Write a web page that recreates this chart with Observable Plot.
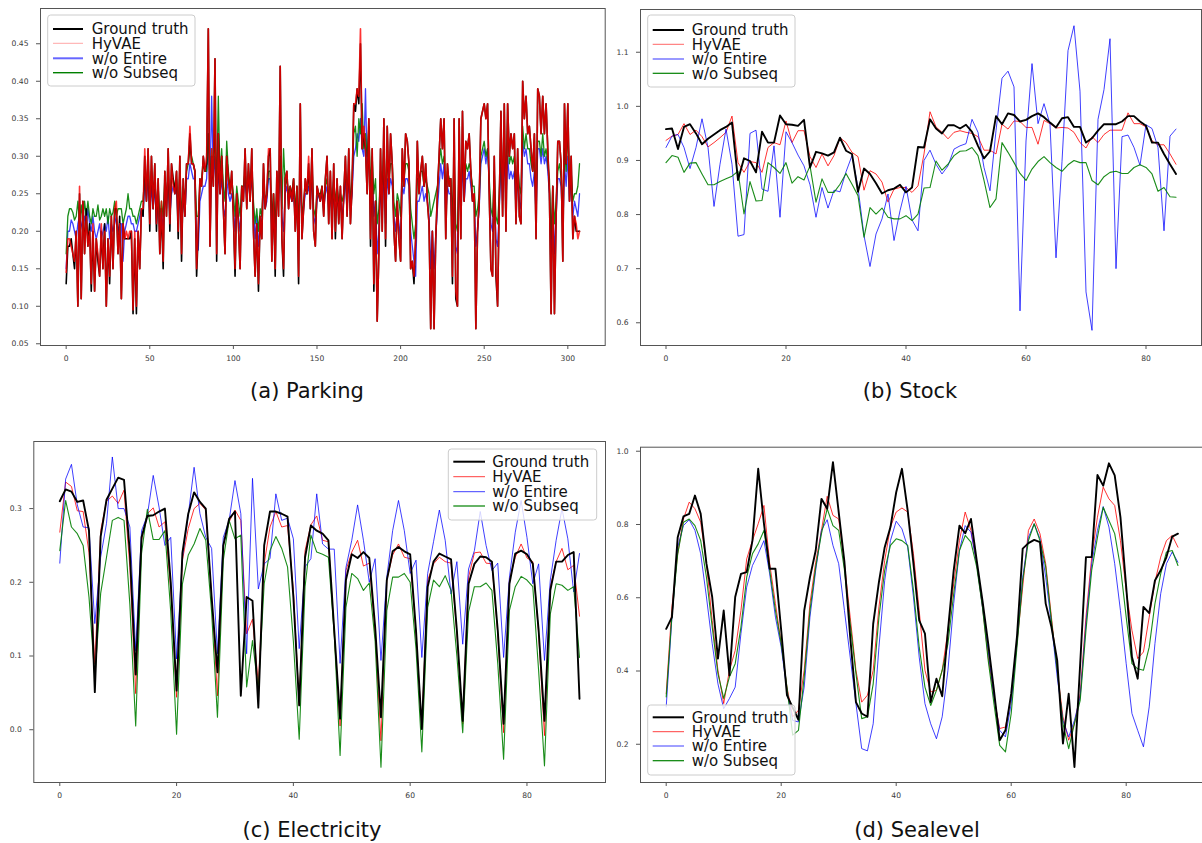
<!DOCTYPE html>
<html><head><meta charset="utf-8">
<script src="https://cdn.jsdelivr.net/npm/d3@7"></script>
<script src="https://cdn.jsdelivr.net/npm/@observablehq/plot@0.6"></script>
<style>
html,body{margin:0;padding:0;background:#fff;}
#root{position:relative;width:1202px;height:843px;overflow:hidden;background:#fff;}
.panel{position:absolute;}
#overlay{position:absolute;left:0;top:0;pointer-events:none;}
</style></head>
<body><div id="root"></div>
<script>
const seriesNames = ["Ground truth","HyVAE","w/o Entire","w/o Subseq"];
const captions = ["(a) Parking","(b) Stock","(c) Electricity","(d) Sealevel"];

const parkingGT = [
.13,.18,.18,.19,.17,.15,.20,.10,.25,.11,
.24,.17,.23,.18,.21,.12,.20,.12,.19,.16,
.14,.20,.15,.21,.10,.19,.13,.22,.15,.23,
.23,.17,.22,.11,.21,.19,.19,.19,.19,.20,
.09,.19,.09,.20,.15,.23,.22,.30,.24,.31,
.20,.30,.23,.29,.20,.27,.17,.23,.15,.28,
.22,.31,.20,.29,.27,.25,.28,.19,.30,.16,
.27,.22,.29,.29,.33,.29,.29,.28,.14,.20,
.27,.26,.30,.28,.29,.47,.18,.30,.26,.43,
.16,.33,.25,.30,.23,.17,.30,.27,.25,.28,
.22,.14,.25,.21,.15,.26,.24,.31,.23,.29,
.24,.31,.20,.14,.21,.12,.22,.19,.29,.23,
.25,.30,.31,.16,.25,.14,.28,.22,.42,.19,
.14,.27,.28,.23,.26,.24,.27,.20,.26,.13,
.37,.19,.23,.27,.25,.29,.23,.31,.20,.18,
.26,.25,.24,.26,.22,.27,.30,.21,.28,.19,
.29,.19,.27,.21,.26,.19,.25,.30,.22,.31,
.21,.26,.37,.36,.39,.37,.45,.31,.33,.31,
.25,.35,.18,.31,.12,.24,.08,.17,.31,.20,
.35,.18,.34,.25,.33,.29,.20,.16,.24,.19,
.16,.31,.26,.33,.32,.29,.15,.16,.13,.19,
.32,.25,.28,.30,.26,.29,.24,.21,.07,.20,
.07,.19,.25,.30,.35,.31,.35,.19,.29,.26,
.27,.13,.35,.11,.10,.35,.19,.36,.24,.32,
.31,.33,.28,.24,.25,.07,.20,.24,.35,.36,
.37,.35,.37,.25,.15,.14,.30,.14,.10,.24,
.36,.22,.37,.20,.37,.30,.33,.31,.33,.21,
.31,.22,.21,.40,.35,.38,.33,.34,.31,.28,
.33,.19,.39,.38,.33,.38,.33,.37,.31,.25,
.09,.26,.09,.22,.32,.32,.29,.16,.37,.29,
.37,.24,.30,.19,.22,.20,.20,.20];
const parkingHyVAE = [
.145,.19,.19,.18,.17,.16,.20,.10,.26,.11,
.24,.17,.22,.18,.20,.13,.21,.12,.19,.17,
.14,.21,.15,.20,.10,.19,.14,.22,.15,.23,
.24,.17,.21,.11,.21,.19,.20,.19,.20,.20,
.095,.20,.10,.20,.15,.23,.23,.31,.24,.31,
.21,.30,.23,.29,.21,.27,.17,.24,.16,.28,
.22,.31,.21,.29,.26,.25,.28,.20,.30,.17,
.27,.22,.29,.29,.34,.29,.29,.28,.15,.21,
.27,.26,.30,.28,.30,.47,.18,.31,.26,.43,
.17,.33,.25,.30,.23,.17,.30,.27,.25,.28,
.22,.15,.25,.21,.15,.26,.24,.31,.23,.29,
.24,.31,.20,.14,.21,.13,.22,.19,.29,.23,
.25,.31,.31,.16,.25,.15,.28,.22,.42,.19,
.15,.27,.28,.23,.26,.24,.27,.20,.26,.14,
.37,.19,.23,.27,.25,.30,.23,.31,.20,.18,
.26,.25,.24,.26,.22,.27,.30,.21,.28,.19,
.29,.20,.27,.21,.26,.19,.25,.30,.22,.31,
.21,.26,.37,.37,.39,.38,.47,.31,.34,.31,
.25,.35,.19,.31,.13,.24,.08,.17,.31,.20,
.35,.19,.34,.25,.33,.29,.20,.16,.24,.19,
.16,.31,.26,.33,.32,.29,.15,.16,.14,.19,
.32,.25,.28,.30,.26,.29,.24,.21,.07,.20,
.07,.19,.25,.30,.35,.31,.35,.19,.29,.26,
.27,.14,.35,.12,.10,.35,.19,.36,.24,.32,
.31,.33,.28,.24,.25,.07,.20,.24,.35,.36,
.37,.35,.37,.25,.15,.14,.30,.15,.10,.24,
.36,.22,.37,.20,.37,.30,.33,.31,.33,.21,
.31,.22,.21,.40,.35,.38,.33,.34,.31,.28,
.33,.19,.39,.38,.33,.38,.33,.37,.31,.25,
.09,.26,.09,.22,.32,.32,.29,.16,.37,.29,
.37,.24,.30,.19,.22,.21,.19,.20];
const parkingEntire = [
.15,.20,.20,.215,.21,.20,.19,.21,.22,.21,
.20,.22,.21,.23,.21,.20,.22,.20,.19,.20,
.21,.19,.20,.21,.20,.22,.19,.21,.20,.21,
.22,.20,.21,.21,.16,.20,.21,.22,.22,.21,
.21,.20,.20,.21,.22,.23,.22,.27,.24,.27,
.22,.26,.23,.26,.21,.25,.20,.23,.20,.26,
.23,.27,.22,.25,.26,.25,.26,.21,.26,.20,
.25,.22,.27,.27,.29,.28,.27,.27,.19,.175,
.24,.25,.26,.26,.27,.33,.26,.38,.27,.30,
.23,.28,.25,.27,.23,.22,.27,.25,.24,.25,
.23,.20,.24,.22,.20,.24,.25,.27,.24,.27,
.25,.27,.23,.19,.22,.18,.21,.21,.26,.23,
.24,.27,.27,.20,.24,.19,.25,.24,.30,.22,
.20,.25,.26,.24,.25,.24,.25,.22,.24,.19,
.28,.21,.23,.25,.25,.26,.24,.27,.22,.21,
.24,.25,.24,.25,.23,.25,.26,.23,.25,.22,
.26,.22,.25,.23,.24,.22,.24,.27,.23,.27,
.23,.25,.30,.31,.33,.32,.35,.31,.30,.39,
.28,.30,.24,.28,.22,.24,.17,.20,.26,.22,
.28,.21,.27,.25,.27,.26,.22,.20,.23,.21,
.19,.26,.25,.27,.27,.26,.20,.18,.16,.14,
.24,.24,.25,.26,.24,.25,.24,.22,.15,.20,
.15,.19,.23,.26,.29,.27,.29,.22,.26,.25,
.25,.19,.28,.18,.17,.28,.22,.29,.24,.27,
.27,.28,.26,.24,.24,.18,.20,.23,.29,.30,
.31,.29,.31,.26,.21,.20,.26,.19,.18,.23,
.29,.24,.30,.24,.30,.27,.28,.27,.28,.23,
.27,.24,.23,.32,.30,.31,.29,.29,.27,.26,
.28,.22,.31,.31,.29,.31,.29,.30,.28,.25,
.16,.24,.17,.22,.27,.27,.26,.20,.29,.26,
.30,.24,.27,.22,.24,.23,.22,.25];
const parkingSubseq = [
.17,.22,.23,.23,.225,.215,.22,.24,.21,.235,
.21,.24,.22,.24,.22,.21,.23,.22,.22,.235,
.215,.22,.23,.22,.23,.21,.23,.22,.225,.24,
.22,.23,.23,.23,.21,.22,.23,.25,.23,.23,
.22,.22,.21,.22,.23,.24,.24,.28,.26,.29,
.24,.28,.25,.27,.23,.26,.22,.24,.22,.27,
.24,.28,.23,.27,.27,.26,.27,.23,.28,.22,
.26,.24,.28,.29,.31,.30,.29,.28,.22,.22,
.26,.27,.29,.28,.28,.33,.27,.31,.28,.33,
.26,.38,.27,.31,.26,.24,.32,.28,.26,.27,
.25,.22,.26,.24,.22,.26,.26,.28,.25,.28,
.26,.29,.24,.21,.23,.20,.23,.22,.27,.24,
.25,.28,.28,.22,.25,.21,.26,.25,.30,.23,
.31,.26,.27,.25,.26,.25,.27,.23,.26,.21,
.29,.22,.24,.26,.25,.28,.25,.29,.23,.22,
.25,.25,.25,.26,.24,.26,.27,.24,.26,.24,
.27,.24,.26,.24,.25,.24,.25,.28,.25,.28,
.24,.27,.33,.34,.30,.35,.33,.37,.31,.33,
.30,.34,.26,.30,.25,.27,.21,.23,.28,.25,
.32,.24,.30,.27,.29,.29,.24,.22,.25,.24,
.22,.28,.27,.29,.29,.28,.23,.21,.19,.21,
.27,.27,.28,.28,.26,.27,.26,.25,.22,.23,
.24,.25,.26,.29,.31,.29,.30,.25,.28,.27,
.27,.22,.30,.21,.20,.29,.24,.31,.26,.29,
.28,.29,.28,.26,.26,.22,.23,.25,.30,.31,
.32,.30,.31,.27,.23,.22,.28,.22,.21,.25,
.31,.26,.32,.27,.35,.29,.30,.29,.30,.25,
.29,.26,.25,.34,.31,.33,.31,.31,.29,.28,
.30,.24,.32,.32,.30,.33,.30,.31,.29,.27,
.19,.26,.21,.24,.28,.29,.27,.23,.31,.28,
.34,.26,.28,.24,.25,.25,.26,.29];

const stockGT = [.958,.959,.921,.962,.967,.95,.93,.94,.948,.956,
.962,.97,.864,.904,.899,.878,.953,.933,.933,.983,
.967,.966,.964,.975,.887,.916,.913,.909,.915,.942,
.918,.912,.842,.885,.875,.858,.839,.845,.848,.855,
.841,.85,.925,.924,.976,.959,.95,.965,.965,.959,
.966,.953,.927,.904,.917,.982,.967,.987,.984,.972,
.975,.982,.987,.98,.97,.961,.978,.98,.962,.962,
.933,.941,.955,.967,.967,.967,.972,.982,.982,.972,
.964,.933,.933,.912,.893,.875];
const stockHyVAE = [.937,.945,.948,.968,.948,.956,.944,.925,.933,.942,
.952,.982,.896,.878,.898,.896,.878,.924,.933,.929,
.973,.933,.955,.955,.907,.887,.912,.89,.909,.942,
.933,.915,.907,.845,.881,.875,.86,.823,.847,.85,
.85,.841,.853,.912,.99,.962,.952,.94,.952,.955,
.952,.95,.944,.919,.919,.912,.967,.958,.973,.972,
.961,.961,.93,.974,.968,.96,.961,.96,.952,.933,
.923,.944,.933,.948,.956,.956,.956,.988,.968,.968,
.962,.936,.929,.929,.912,.893];
const stockEntire = [.924,.945,.948,.924,.885,.924,.977,.924,.815,.893,
.958,.893,.76,.763,.95,.956,.847,.843,.927,.795,
.953,.933,.91,.89,.855,.795,.85,.812,.845,.842,
.879,.909,.85,.761,.704,.764,.792,.838,.752,.807,
.852,.79,.77,.9,.919,.893,.875,.89,.921,.927,
.931,.976,.952,.887,.844,.955,1.052,1.065,1.036,.622,
.936,1.079,.968,1.005,.967,.72,.898,1.103,1.149,1.028,
.657,.586,.976,1.031,1.125,.7,.944,.947,.924,.891,
.966,.959,.924,.77,.945,.958];
const stockSubseq = [.896,.909,.906,.878,.895,.896,.875,.855,.855,.861,
.866,.871,.88,.801,.861,.825,.826,.896,.887,.876,
.896,.858,.87,.864,.89,.823,.866,.841,.841,.856,
.876,.856,.835,.758,.813,.801,.812,.795,.792,.792,
.798,.789,.801,.849,.85,.899,.882,.893,.909,.917,
.918,.924,.909,.863,.813,.829,.933,.915,.896,.876,
.863,.884,.898,.907,.896,.887,.88,.892,.9,.896,
.896,.863,.855,.87,.878,.88,.876,.876,.887,.892,
.887,.875,.843,.85,.833,.832];

const elecGT = [.31,.326,.323,.309,.311,.27,.051,.262,.312,.327,
.342,.339,.24,.075,.261,.29,.291,.296,.30,.20,
.053,.24,.293,.322,.309,.30,.18,.078,.25,.286,
.296,.046,.18,.175,.03,.25,.296,.296,.293,.289,
.18,.033,.234,.277,.27,.266,.257,.135,.015,.203,
.238,.233,.241,.233,.14,.017,.203,.242,.248,.242,
.238,.135,.001,.194,.228,.239,.235,.231,.135,.012,
.198,.225,.235,.234,.228,.135,.008,.198,.239,.243,
.238,.225,.135,.012,.189,.228,.228,.237,.241,.042];
const elecHyVAE = [.268,.336,.33,.297,.296,.24,.089,.27,.31,.317,
.307,.325,.22,.049,.257,.293,.301,.275,.282,.19,
.044,.23,.273,.30,.307,.298,.18,.046,.25,.282,
.298,.284,.13,.15,.062,.225,.275,.296,.275,.277,
.19,.033,.243,.278,.29,.257,.255,.13,.005,.216,
.241,.257,.222,.226,.13,-.015,.203,.237,.252,.234,
.232,.13,.003,.203,.225,.234,.228,.226,.13,.008,
.207,.24,.241,.226,.225,.13,-.004,.203,.234,.252,
.233,.228,.13,-.008,.194,.228,.246,.217,.223,.154];
const elecEntire = [.226,.34,.36,.305,.275,.274,.144,.234,.28,.37,
.30,.30,.275,.107,.27,.291,.345,.302,.25,.261,
.096,.234,.291,.356,.293,.261,.246,.103,.261,.284,
.338,.293,.103,.341,.191,.225,.232,.32,.284,.287,
.259,.11,.221,.232,.32,.252,.245,.245,.09,.22,
.257,.305,.257,.20,.232,.094,.207,.27,.311,.27,
.212,.23,.098,.212,.255,.298,.257,.184,.228,.116,
.218,.243,.296,.25,.216,.226,.098,.207,.268,.311,
.261,.198,.225,.094,.203,.257,.30,.259,.187,.239];
const elecSubseq = [.243,.311,.275,.266,.25,.18,.071,.185,.234,.284,
.288,.284,.17,.005,.239,.299,.258,.258,.27,.16,
-.006,.198,.237,.252,.273,.257,.16,.017,.23,.284,
.259,.264,.058,.121,.053,.198,.243,.262,.246,.221,
.12,-.013,.194,.264,.241,.238,.234,.13,-.035,.166,
.212,.205,.189,.199,.12,-.051,.162,.207,.207,.212,
.20,.11,-.03,.166,.203,.194,.209,.189,.10,-.004,
.16,.194,.194,.199,.189,.09,-.04,.162,.194,.208,
.203,.194,.08,-.049,.157,.198,.196,.189,.194,.098];

const seaGT = [.515,.547,.765,.822,.829,.879,.829,.693,.602,.434,
.565,.388,.602,.665,.67,.756,.952,.802,.679,.679,
.511,.334,.30,.267,.565,.656,.729,.87,.843,.97,
.834,.697,.493,.315,.284,.275,.529,.643,.738,.793,
.888,.952,.838,.693,.538,.502,.315,.379,.331,.511,
.675,.797,.776,.815,.702,.593,.475,.347,.211,.238,
.338,.493,.734,.749,.758,.752,.584,.52,.429,.202,
.338,.138,.42,.711,.711,.935,.906,.967,.934,.82,
.629,.438,.379,.575,.558,.647,.675,.711,.767,.775];
const seaHyVAE = [.338,.575,.72,.815,.861,.843,.806,.693,.538,.402,
.311,.402,.456,.565,.706,.756,.802,.852,.693,.584,
.475,.356,.275,.293,.402,.584,.697,.784,.877,.825,
.815,.693,.547,.402,.315,.334,.402,.575,.702,.793,
.834,.845,.834,.72,.565,.402,.343,.347,.402,.511,
.638,.756,.834,.784,.693,.575,.438,.329,.243,.247,
.329,.475,.629,.784,.815,.775,.693,.547,.402,.275,
.211,.256,.338,.547,.711,.82,.902,.87,.852,.756,
.62,.511,.434,.452,.547,.643,.711,.756,.77,.738];
const seaEntire = [.302,.547,.738,.797,.813,.784,.72,.602,.475,.365,
.297,.325,.356,.502,.629,.688,.72,.756,.665,.547,
.465,.347,.265,.261,.356,.547,.675,.784,.813,.743,
.693,.565,.438,.311,.188,.182,.256,.465,.647,.756,
.809,.788,.738,.602,.438,.311,.256,.215,.275,.402,
.584,.729,.797,.779,.693,.575,.456,.329,.238,.22,
.311,.475,.656,.765,.802,.761,.656,.529,.384,.265,
.22,.265,.329,.529,.693,.784,.849,.793,.693,.565,
.42,.284,.238,.193,.302,.475,.611,.693,.725,.697];
const seaSubseq = [.329,.552,.72,.806,.815,.797,.756,.656,.52,.393,
.325,.384,.42,.52,.656,.72,.747,.784,.675,.565,
.475,.356,.225,.238,.384,.565,.684,.775,.843,.797,
.784,.675,.529,.393,.27,.275,.365,.547,.675,.743,
.761,.756,.743,.62,.465,.356,.306,.347,.402,.475,
.611,.729,.77,.752,.684,.575,.429,.311,.197,.179,
.284,.465,.647,.756,.802,.756,.684,.538,.402,.256,
.188,.256,.32,.511,.675,.765,.847,.811,.775,.684,
.547,.42,.406,.402,.465,.584,.665,.725,.729,.688];

const parkingXTicks = [0,50,100,150,200,250,300];
const parkingYTicks = [0.05,0.10,0.15,0.20,0.25,0.30,0.35,0.40,0.45];
const stockXTicks = [0,20,40,60,80];
const stockYTicks = [0.6,0.7,0.8,0.9,1.0,1.1];
const elecXTicks = [0,20,40,60,80];
const elecYTicks = [0.0,0.1,0.2,0.3];
const seaXTicks = [0,20,40,60,80];
const seaYTicks = [0.2,0.4,0.6,0.8,1.0];

const colors = ["black","red","blue","green"];

const panels = [
  {left:0, top:0, width:615, height:367, ml:40, mt:8, mr:10.3, mb:22,
   xd:[-15.35,322.35], yd:[0.0477,0.497], xt:parkingXTicks, yt:parkingYTicks, yf:".2f",
   series:[parkingGT,parkingHyVAE,parkingEntire,parkingSubseq],
   order:[2,3,0,1], widths:[1.6,1.6,1.3,1.3], opac:[1,0.8,0.75,0.9]},
  {left:600, top:0, width:602, height:367, ml:40, mt:9, mr:1, mb:22,
   xd:[-4.25,89.25], yd:[0.558,1.179], xt:stockXTicks, yt:stockYTicks, yf:".1f",
   series:[stockGT,stockHyVAE,stockEntire,stockSubseq],
   order:[1,2,3,0], widths:[1.9,1,1,1.1], opac:[1,0.8,0.75,0.9]},
  {left:0, top:430, width:615, height:374, ml:33.3, mt:11, mr:10, mb:22,
   xd:[-4.45,93.45], yd:[-0.0716,0.391], xt:elecXTicks, yt:elecYTicks, yf:".1f",
   series:[elecGT,elecHyVAE,elecEntire,elecSubseq],
   order:[1,2,3,0], widths:[1.9,1,1,1.1], opac:[1,0.8,0.75,0.9]},
  {left:600, top:430, width:602, height:374, ml:40, mt:16.7, mr:0, mb:22,
   xd:[-4.47,93.27], yd:[0.0956,1.011], xt:seaXTicks, yt:seaYTicks, yf:".1f",
   series:[seaGT,seaHyVAE,seaEntire,seaSubseq],
   order:[1,2,3,0], widths:[1.9,1,1,1.1], opac:[1,0.8,0.75,0.9]}
];

const root = document.getElementById("root");
for (const p of panels) {
  const lines = p.order.map(k => Plot.line(p.series[k], {
    x: (d, i) => i, y: d => d,
    stroke: colors[k], strokeWidth: p.widths[k], strokeOpacity: p.opac[k]
  }));
  const chart = Plot.plot({
    width: p.width, height: p.height,
    marginLeft: p.ml, marginTop: p.mt, marginRight: p.mr, marginBottom: p.mb,
    x: {domain: p.xd},
    y: {domain: p.yd},
    style: {fontFamily: "DejaVu Sans, sans-serif", fontSize: "7.6px", color: "#3a3a3a", background: "transparent", overflow: "visible"},
    marks: [
      ...lines,
      Plot.frame({stroke: "#555", strokeWidth: 1}),
      Plot.axisX(p.xt, {tickSize: 4, tickPadding: 6, label: null, stroke: "#555"}),
      Plot.axisY(p.yt, {tickSize: 4, tickPadding: 8, label: null, stroke: "#555", tickFormat: d3.format(p.yf)})
    ]
  });
  chart.classList.add("panel");
  chart.style.left = p.left + "px";
  chart.style.top = p.top + "px";
  root.appendChild(chart);
}

// legends and captions overlay
const legends = [
  {x0:47.7, x1:195, y0:15, y1:86, ys:[29,43.3,58.3,72.7], lx0:53, lx1:83, tx:91.7,
   lw:[2,1,2,1.4], lo:[1,0.35,0.6,1]},
  {x0:647.7, x1:795, y0:15, y1:87, ys:[30,44.3,59,73.3], lx0:652.7, lx1:684, tx:691.7,
   lw:[2,1,1,1.2], lo:[1,0.6,0.8,1]},
  {x0:448.3, x1:596.7, y0:449, y1:520, ys:[461.7,476.7,491.7,506], lx0:453.3, lx1:485, tx:492.3,
   lw:[2,1,1,1.2], lo:[1,0.75,0.75,1]},
  {x0:647.7, x1:795, y0:705, y1:775, ys:[717.3,731.7,746,760.7], lx0:652.7, lx1:684, tx:691.7,
   lw:[2,1,1,1.2], lo:[1,0.75,0.75,1]}
];
const capPos = [[307,390],[910,390],[312,829],[917,829]];

const svg = d3.select(root).append("svg").attr("id","overlay")
  .attr("width",1202).attr("height",843);
for (const L of legends) {
  const g = svg.append("g");
  g.append("rect").attr("x",L.x0).attr("y",L.y0).attr("width",L.x1-L.x0).attr("height",L.y1-L.y0)
    .attr("rx",3).attr("fill","white").attr("fill-opacity",0.8).attr("stroke","#cccccc").attr("stroke-width",1);
  seriesNames.forEach((name, k) => {
    g.append("line").attr("x1",L.lx0).attr("x2",L.lx1).attr("y1",L.ys[k]).attr("y2",L.ys[k])
      .attr("stroke",colors[k]).attr("stroke-width",L.lw[k]).attr("stroke-opacity",L.lo[k]);
    g.append("text").attr("x",L.tx).attr("y",L.ys[k]).attr("dy","0.36em")
      .attr("font-family","DejaVu Sans, sans-serif").attr("font-size","15px").attr("fill","#111")
      .text(name);
  });
}
captions.forEach((c, k) => {
  svg.append("text").attr("x",capPos[k][0]).attr("y",capPos[k][1]).attr("dy","0.36em")
    .attr("text-anchor","middle").attr("font-family","DejaVu Sans, sans-serif")
    .attr("font-size","21px").attr("fill","#111").text(c);
});
</script></body></html>
